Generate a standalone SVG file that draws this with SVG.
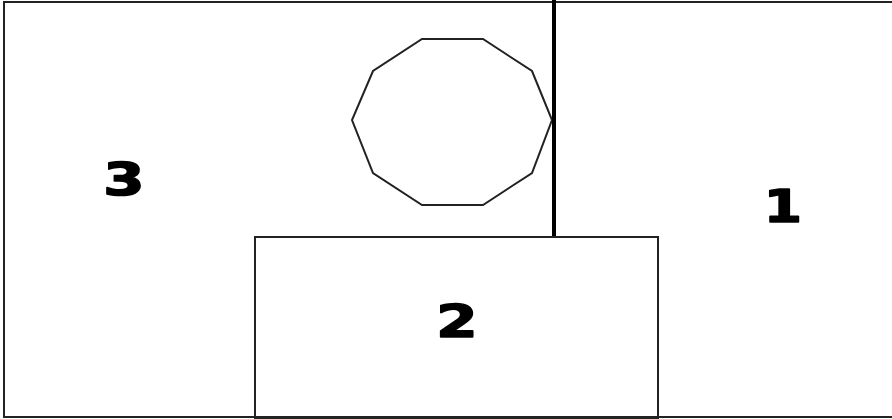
<svg xmlns="http://www.w3.org/2000/svg" width="892" height="419" viewBox="0 0 892 419">
<style>
.s{fill:none;stroke:#222;stroke-width:2}
.t{font-family:"DejaVu Sans",sans-serif;font-weight:bold;font-size:44px;fill:#000;stroke:#000;stroke-width:1.6;stroke-linejoin:round;text-anchor:middle}
</style>
<rect width="892" height="419" fill="#fff"/>
<g id="frame"><rect class="s" x="4" y="2" width="890" height="415"/></g>
<g id="region3"><text class="t" x="124" y="195" transform="translate(124 0) scale(1.35 1) translate(-124 0)">3</text></g>
<g id="region1"><text class="t" x="783" y="222" transform="translate(783 0) scale(1.25 1) translate(-783 0)">1</text></g>
<g id="decagon"><polygon class="s" points="422,39 483,39 532,71 552,120 532,173 483,205 422,205 373,173 352,120 373,71"/></g>
<g id="connectors"><line x1="554" y1="0" x2="554" y2="238" stroke="#000" stroke-width="4"/></g>
<g id="region2"><rect class="s" x="255" y="237" width="403" height="181"/>
<text class="t" x="457" y="337" transform="translate(457 0) scale(1.35 1) translate(-457 0)">2</text></g>
</svg>
